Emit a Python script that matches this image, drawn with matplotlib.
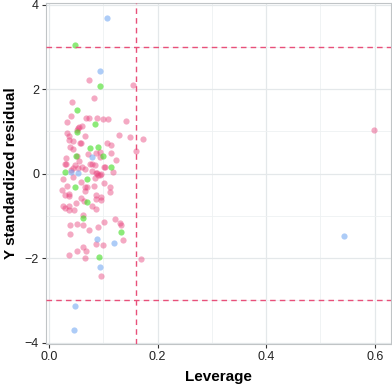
import matplotlib
matplotlib.use("Agg")
import matplotlib.pyplot as plt
import numpy as np
from matplotlib.ticker import MultipleLocator

plt.rcParams["font.family"] = ["Liberation Sans", "DejaVu Sans"]

# leverage / standardized residual, one list pair per colour group
pink_x = [0.073, 0.154, 0.082, 0.042, 0.040, 0.068, 0.073, 0.088, 0.099, 0.109,
          0.141, 0.033, 0.060, 0.056, 0.054, 0.051, 0.033, 0.037, 0.066, 0.128,
          0.150, 0.173, 0.037, 0.045, 0.038, 0.057, 0.059, 0.107, 0.115, 0.093,
          0.086, 0.114, 0.160, 0.093, 0.051, 0.032, 0.124, 0.030, 0.032, 0.048,
          0.076, 0.079, 0.085, 0.061, 0.102, 0.104, 0.045, 0.054, 0.066, 0.041,
          0.117, 0.087, 0.096, 0.090, 0.026, 0.044, 0.059, 0.085, 0.089, 0.094,
          0.034, 0.066, 0.070, 0.083, 0.113, 0.113, 0.030, 0.037, 0.037, 0.058,
          0.064, 0.086, 0.086, 0.095, 0.095, 0.026, 0.030, 0.037, 0.037, 0.046,
          0.079, 0.086, 0.062, 0.102, 0.121, 0.130, 0.132, 0.038, 0.051, 0.062,
          0.073, 0.091, 0.038, 0.137, 0.086, 0.100, 0.062, 0.068, 0.051, 0.036,
          0.066, 0.170, 0.096, 0.599, 0.045, 0.072, 0.055, 0.080, 0.024, 0.049,
          0.067, 0.101]
pink_y = [2.21, 2.11, 1.79, 1.69, 1.36, 1.32, 1.32, 1.32, 1.29, 1.30,
          1.24, 1.23, 1.13, 1.10, 1.07, 1.04, 0.96, 0.89, 0.89, 0.91,
          0.87, 0.82, 0.80, 0.78, 0.64, 0.73, 0.73, 0.73, 0.68, 0.52,
          0.50, 0.48, 0.53, 0.40, 0.41, 0.38, 0.32, 0.22, 0.23, 0.21,
          0.24, 0.23, 0.20, 0.17, 0.16, 0.16, 0.13, 0.13, 0.11, 0.09,
          0.05, 0.02, 0.00, -0.04, -0.13, -0.08, -0.20, -0.10, 0.02, -0.03,
          -0.28, -0.32, -0.32, -0.29, -0.32, -0.43, -0.50, -0.47, -0.53, -0.57,
          -0.64, -0.50, -0.60, -0.55, -0.63, -0.76, -0.81, -0.77, -0.85, -0.85,
          -0.77, -0.84, -0.98, -1.14, -1.06, -1.17, -1.22, -1.22, -1.18, -1.22,
          -1.33, -1.25, -1.43, -1.57, -1.66, -1.69, -1.74, -1.83, -1.83, -1.92,
          -2.00, -2.02, -2.43, 1.04, 0.58, 0.47, 0.30, 0.07, -0.38, -0.70,
          -0.42, -0.22]

green_x = [0.047, 0.093, 0.052, 0.084, 0.052, 0.075, 0.091, 0.099, 0.049, 0.114,
           0.030, 0.070, 0.047, 0.070, 0.062, 0.133, 0.092]
green_y = [3.04, 2.08, 1.50, 1.17, 0.98, 0.60, 0.64, 0.43, 0.42, 0.17,
           0.05, -0.13, -0.31, -0.68, -1.05, -1.38, -1.98]

blue_x = [0.107, 0.093, 0.079, 0.040, 0.053, 0.089, 0.119, 0.094, 0.047, 0.046, 0.543]
blue_y = [3.68, 2.44, 0.39, 0.04, 0.02, -1.54, -1.65, -2.20, -3.14, -3.71, -1.47]

lev_cut = 0.16
res_cut = [-3, 3]

fig = plt.figure(figsize=(3.92, 3.86), dpi=100)
ax = fig.add_axes([46 / 392, 42 / 386, 345 / 392, 341 / 386])

ax.set_xlim(-0.0056, 0.63)
ax.set_ylim(-4.03, 4.04)

ax.xaxis.set_major_locator(MultipleLocator(0.2))
ax.xaxis.set_minor_locator(MultipleLocator(0.1))
ax.yaxis.set_major_locator(MultipleLocator(2))
ax.yaxis.set_minor_locator(MultipleLocator(1))
ax.grid(which="major", color="#e4e8ea", linewidth=0.9)
ax.grid(which="minor", color="#eef1f2", linewidth=0.6)
ax.set_axisbelow(True)

ax.scatter(pink_x, pink_y, s=20, color="#e8407a", alpha=0.45, linewidths=0, zorder=3)
ax.scatter(green_x, green_y, s=20, color="#40dc20", alpha=0.6, linewidths=0, zorder=3)
ax.scatter(blue_x, blue_y, s=20, color="#6aa2f2", alpha=0.55, linewidths=0, zorder=3)

for h in res_cut:
    ax.axhline(h, color="#e8507a", linewidth=1.0, linestyle=(0, (4, 3)), zorder=4)
ax.axvline(lev_cut, color="#e8507a", linewidth=1.0, linestyle=(0, (4, 3)), zorder=4)

ax.set_xticks([0.0, 0.2, 0.4, 0.6])
ax.set_xticklabels(["0.0", "0.2", "0.4", "0.6"])
ax.set_yticks([-4, -2, 0, 2, 4])
ax.set_yticklabels(["\u22124", "\u22122", "0", "2", "4"])
ax.tick_params(which="major", length=3, width=0.8, color="#333333", labelsize=9,
               labelcolor="#222222", pad=2)
ax.tick_params(which="minor", length=0)

for sp in ax.spines.values():
    sp.set_color("#c0c4c6")
    sp.set_linewidth(0.8)

ax.set_xlabel("Leverage", fontsize=11, fontweight="bold", labelpad=5)
ax.set_ylabel("Y standardized residual", fontsize=11, fontweight="bold", labelpad=5)

fig.savefig("out.png", dpi=100)
